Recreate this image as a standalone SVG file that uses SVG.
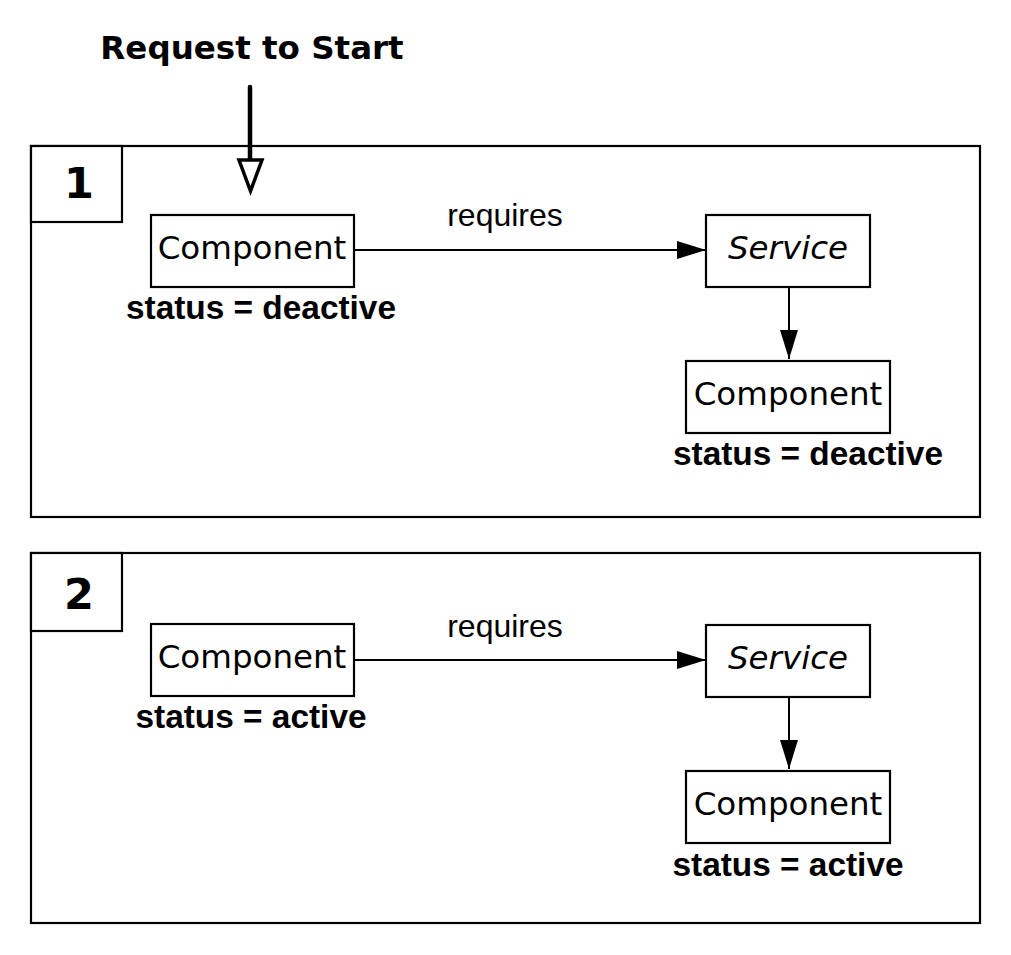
<svg xmlns="http://www.w3.org/2000/svg" width="1011" height="955" viewBox="0 0 1011 955">
  <style>
    .frame { fill: #fff; stroke: #000; stroke-width: 2.2; }
    .box { fill: #fff; stroke: #000; stroke-width: 2.2; }
    .num { font-family: "DejaVu Sans", sans-serif; font-weight: bold; font-size: 43px; text-anchor: middle; }
    .title { font-family: "DejaVu Sans", sans-serif; font-weight: bold; font-size: 32.5px; text-anchor: middle; }
    .lbl { font-family: "DejaVu Sans", sans-serif; font-size: 32.5px; text-anchor: middle; }
    .svc { font-family: "DejaVu Sans", sans-serif; font-style: italic; font-size: 32.5px; text-anchor: middle; }
    .status { font-family: "Liberation Sans", Arial, sans-serif; font-weight: bold; font-size: 33.4px; text-anchor: middle; }
    .edge { font-family: "Liberation Sans", Arial, sans-serif; font-size: 32px; text-anchor: middle; }
    .conn { stroke: #000; stroke-width: 2; fill: none; }
  </style>
  <defs>
    <marker id="arrow" markerUnits="userSpaceOnUse" markerWidth="30" markerHeight="20" refX="29" refY="9" orient="auto">
      <path d="M0,0 L29,9 L0,18 Z" fill="#000"/>
    </marker>
  </defs>
  <rect width="1011" height="955" fill="#fff"/>

  <g id="title">
    <text class="title" x="252" y="59">Request to Start</text>
  </g>

  <g id="panel1">
    <rect class="frame" x="31" y="146" width="949" height="371"/>
    <rect class="frame" x="31" y="146" width="91" height="76"/>
    <text class="num" x="79" y="198">1</text>
  </g>
  <g id="p1-component">
    <rect class="box" x="151" y="215" width="203" height="72"/>
    <text class="lbl" x="252" y="259">Component</text>
    <text class="status" x="261" y="319">status = deactive</text>
  </g>
  <g id="p1-service">
    <rect class="box" x="706" y="215" width="164" height="72"/>
    <text class="svc" x="788" y="259">Service</text>
  </g>
  <g id="p1-component2">
    <rect class="box" x="686" y="361" width="204" height="72"/>
    <text class="lbl" x="788" y="405">Component</text>
    <text class="status" x="808" y="465">status = deactive</text>
  </g>

  <g id="panel2">
    <rect class="frame" x="31" y="553" width="949" height="370"/>
    <rect class="frame" x="31" y="553" width="91" height="78"/>
    <text class="num" x="79" y="609">2</text>
  </g>
  <g id="p2-component">
    <rect class="box" x="151" y="624" width="203" height="72"/>
    <text class="lbl" x="252" y="668">Component</text>
    <text class="status" x="251" y="728">status = active</text>
  </g>
  <g id="p2-service">
    <rect class="box" x="706" y="625" width="164" height="72"/>
    <text class="svc" x="788" y="669">Service</text>
  </g>
  <g id="p2-component2">
    <rect class="box" x="686" y="771" width="204" height="72"/>
    <text class="lbl" x="788" y="815">Component</text>
    <text class="status" x="788" y="876">status = active</text>
  </g>

  <g id="connectors">
    <line x1="250" y1="87" x2="250" y2="160" stroke="#000" stroke-width="4.5" stroke-linecap="round"/>
    <path d="M239,160 L262,160 L250.5,191 Z" fill="#fff" stroke="#000" stroke-width="3.5" stroke-linejoin="miter"/>
    <line class="conn" x1="354" y1="250" x2="706" y2="250" marker-end="url(#arrow)"/>
    <text class="edge" x="505" y="226">requires</text>
    <line class="conn" x1="789" y1="287" x2="789" y2="359" marker-end="url(#arrow)"/>
    <line class="conn" x1="354" y1="660" x2="706" y2="660" marker-end="url(#arrow)"/>
    <text class="edge" x="505" y="637">requires</text>
    <line class="conn" x1="789" y1="697" x2="789" y2="769" marker-end="url(#arrow)"/>
  </g>
</svg>
